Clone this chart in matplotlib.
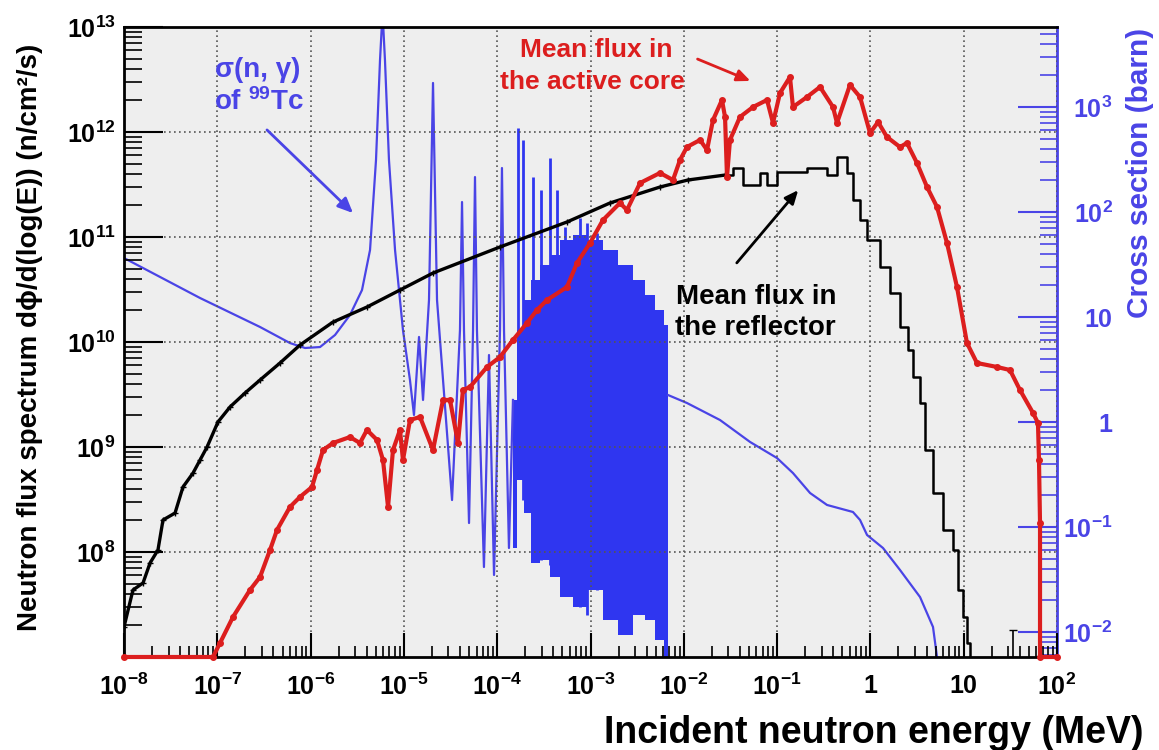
import numpy as np
import matplotlib
matplotlib.use('Agg')
from matplotlib import pyplot as plt
from matplotlib.ticker import LogLocator, FixedLocator, FixedFormatter, NullFormatter

plt.rcParams['font.family'] = ['Liberation Sans', 'DejaVu Sans']
plt.rcParams['font.weight'] = 'bold'
plt.rcParams['mathtext.fontset'] = 'custom'
plt.rcParams['mathtext.rm'] = 'Liberation Sans:bold'
plt.rcParams['mathtext.bf'] = 'Liberation Sans:bold'
plt.rcParams['mathtext.it'] = 'Liberation Sans:bold'
plt.rcParams['mathtext.sf'] = 'Liberation Sans:bold'

#%% values, stored as log10 (energy in MeV, flux in n/cm2/s, sigma in barn)
# mean flux in the reflector (black histogram)
refl_logE = [-8.0, -7.904, -7.796, -7.721, -7.636, -7.582, -7.453, -7.368, -7.260, -7.185,
             -7.110, -6.993, -6.864, -6.703, -6.542, -6.328, -6.114, -5.760, -5.396, -5.042,
             -4.688, -3.970, -3.252, -2.791, -2.255, -1.955, -1.558,
             -1.473, -1.366, -1.183, -1.108, -1.001, -0.680, -0.465, -0.358, -0.251, -0.186,
             -0.111, -0.036, 0.103, 0.210, 0.317, 0.403, 0.457, 0.532, 0.585, 0.671,
             0.778, 0.885, 0.939, 0.993, 1.035, 1.068]
refl_logflux = [7.286, 7.638, 7.705, 7.895, 8.019, 8.305, 8.371, 8.619, 8.752, 8.876,
                9.0, 9.238, 9.381, 9.514, 9.638, 9.800, 9.971, 10.19, 10.333, 10.495,
                10.657, 10.905, 11.143, 11.324, 11.476, 11.543, 11.590,
                11.657, 11.495, 11.610, 11.495, 11.619, 11.657, 11.590, 11.762, 11.610, 11.352,
                11.162, 10.971, 10.714, 10.467, 10.143, 9.924, 9.667, 9.419, 8.971, 8.562,
                8.210, 8.019, 7.638, 7.381, 7.133, 7.0]
refl_stray_E = [34.0]
refl_stray_flux = [1.3e7]

# mean flux in the active core (red)
core_logE = [-8.0, -7.046, -6.971, -6.832, -6.650, -6.542, -6.435, -6.360, -6.221, -6.114,
             -5.985, -5.931, -5.867, -5.760, -5.578, -5.471, -5.396, -5.288, -5.224, -5.170,
             -5.117, -5.042, -5.010, -4.935, -4.827, -4.688, -4.581, -4.506, -4.420, -4.367,
             -4.292, -4.109, -3.970, -3.831, -3.681, -3.573, -3.466, -3.252, -3.145, -3.005,
             -2.866, -2.684, -2.609, -2.469, -2.255, -2.116, -2.041, -1.966, -1.826, -1.751,
             -1.687, -1.591, -1.558, -1.537, -1.505, -1.398, -1.258, -1.108, -1.044, -0.969,
             -0.862, -0.830, -0.680, -0.540, -0.401, -0.358, -0.219, -0.111, -0.004, 0.082,
             0.178, 0.317, 0.392, 0.499, 0.607, 0.714, 0.821, 0.928, 1.035, 1.142,
             1.357, 1.496, 1.603, 1.743, 1.796, 1.807, 1.818, 1.818, 2.0]
core_logflux = [7.0, 7.0, 7.133, 7.381, 7.638, 7.762, 8.019, 8.210, 8.429, 8.524,
                8.619, 8.781, 8.971, 9.038, 9.095, 9.038, 9.162, 9.067, 8.876, 8.429,
                8.971, 9.162, 8.876, 9.257, 9.286, 8.971, 9.448, 9.448, 9.038, 9.543,
                9.571, 9.762, 9.857, 10.019, 10.181, 10.305, 10.4, 10.524, 10.752, 10.943,
                11.162, 11.324, 11.257, 11.514, 11.610, 11.543, 11.733, 11.857, 11.924, 11.829,
                12.114, 12.305, 12.143, 11.571, 11.924, 12.143, 12.238, 12.305, 12.086, 12.371,
                12.524, 12.238, 12.333, 12.429, 12.238, 12.086, 12.448, 12.333, 11.990, 12.095,
                11.952, 11.857, 11.895, 11.705, 11.476, 11.286, 10.943, 10.524, 9.990, 9.800,
                9.762, 9.733, 9.543, 9.324, 9.229, 8.876, 8.276, 7.0, 7.0]

# 99Tc (n,gamma) cross section: thermal part and resolved resonances
xs_logE = [-8.0, -7.185, -6.542, -6.221, -6.060, -5.899, -5.738, -5.578, -5.449, -5.363,
           -5.299, -5.256, -5.229, -5.203, -5.160, -5.095, -5.010, -4.935, -4.892, -4.838,
           -4.795, -4.731, -4.688, -4.645, -4.484, -4.399, -4.377, -4.356, -4.302, -4.259,
           -4.238, -4.217, -4.142, -4.088, -4.034, -3.970, -3.949, -3.927, -3.874, -3.831]
xs_logsig = [1.562, 1.181, 0.905, 0.752, 0.705, 0.714, 0.829, 1.019, 1.257, 1.638,
             2.495, 3.448, 3.9, 3.448, 2.495, 1.638, 0.876, 0.400, 0.067, 0.810,
             0.210, 1.162, 3.229, 1.162, -0.743, 0.876, 2.095, 0.876, -0.962, 0.876,
             2.333, 0.876, -1.381, 0.638, -1.457, 0.876, 2.419, 0.876, -1.200, 0.210]
# dense resonance forest: upper and lower envelope
dense_logE = [-3.831, -3.756, -3.681, -3.595, -3.488, -3.381, -3.273, -3.113, -2.952, -2.791,
              -2.630, -2.469, -2.362, -2.255, -2.169]
dense_hi = [0.210, 0.876, 1.162, 1.352, 1.495, 1.591, 1.733, 1.781, 1.733, 1.638,
            1.495, 1.352, 1.210, 1.067, 0.924]
dense_lo = [-1.200, -0.552, -0.867, -1.343, -1.314, -1.476, -1.667, -1.762, -1.600, -1.886,
            -2.028, -1.838, -1.886, -2.076, -2.238]
spike_logE = [-3.777, -3.724, -3.616, -3.531, -3.434, -3.359, -3.273, -3.113, -3.038, -2.930]
spike_hi = [2.800, 2.686, 2.333, 2.210, 2.514, 2.210, 1.857, 1.943, 1.895, 1.800]
spike_lo = [-0.457, -0.743, -1.314, -1.314, -1.362, -1.457, -1.648, -1.762, -1.838, -1.600]
# unresolved / fast part
tail_logE = [-2.169, -1.966, -1.612, -1.290, -1.001, -0.830, -0.647, -0.465, -0.187, -0.111,
             -0.036, 0.135, 0.317, 0.532, 0.671, 0.714, 0.79]
tail_logsig = [0.257, 0.181, 0.019, -0.190, -0.343, -0.486, -0.676, -0.790, -0.857, -0.933,
               -1.076, -1.200, -1.409, -1.667, -1.952, -2.238, -2.6]

xticks = [1e-8, 1e-7, 1e-6, 1e-5, 1e-4, 1e-3, 1e-2, 1e-1, 1, 10, 100]
xlabels = [r'$10^{-8}$', r'$10^{-7}$', r'$10^{-6}$', r'$10^{-5}$', r'$10^{-4}$', r'$10^{-3}$',
           r'$10^{-2}$', r'$10^{-1}$', '1', '10', r'$10^{2}$']
yticks = [1e8, 1e9, 1e10, 1e11, 1e12, 1e13]
ylabels = [r'$10^{8}$', r'$10^{9}$', r'$10^{10}$', r'$10^{11}$', r'$10^{12}$', r'$10^{13}$']
rticks = [1e-2, 1e-1, 1, 10, 100, 1000]
rlabels = [r'$10^{-2}$', r'$10^{-1}$', '1', '10', r'$10^{2}$', r'$10^{3}$']

#%%
red = '#dc1e1e'
blue = '#4a44e6'
blue_dense = '#2f36f0'

fig = plt.figure(figsize=(11.59, 7.5), dpi=100)
ax = fig.add_axes([124/1159, 93/750, 933/1159, 630/750])
ax2 = ax.twinx()
ax.set_zorder(2)
ax.patch.set_visible(False)
ax2.patch.set_visible(True)
ax2.set_facecolor('#eeeeee')

ax.set_xscale('log')
ax.set_yscale('log')
ax2.set_yscale('log')
ax.set_xlim(1e-8, 1e2)
ax.set_ylim(1e7, 1e13)
ax2.set_ylim(10**-2.238, 10**3.762)

# cross section on the right axis
ax2.plot(10.0**np.array(xs_logE), 10.0**np.array(xs_logsig), color=blue, lw=1.6)
ax2.fill_between(10.0**np.array(dense_logE), 10.0**np.array(dense_lo), 10.0**np.array(dense_hi),
                 color=blue_dense, lw=0, step='mid')
ax2.vlines(10.0**np.array(spike_logE), 10.0**np.array(spike_lo), 10.0**np.array(spike_hi),
           color=blue_dense, lw=2)
ax2.plot(10.0**np.array(tail_logE), 10.0**np.array(tail_logsig), color=blue, lw=1.6)

# reflector flux (black)
rE = 10.0**np.array(refl_logE)
rF = 10.0**np.array(refl_logflux)
smooth = np.array(refl_logE) <= -1.55
last = smooth.sum() - 1
ax.plot(rE[smooth], rF[smooth], color='black', lw=2.4, marker='+', ms=5, mew=1)
ax.plot(rE[last:], rF[last:], color='black', lw=1.8, drawstyle='steps-post')
ax.errorbar(refl_stray_E, refl_stray_flux, yerr=[[0.3e7], [0.5e7]], color='black', lw=1.2,
            capsize=3, fmt='none')

# core flux (red)
ax.plot(10.0**np.array(core_logE), 10.0**np.array(core_logflux), color=red, lw=3,
        marker='o', ms=4, clip_on=False, zorder=5)

# axes cosmetics
ax.xaxis.set_major_locator(FixedLocator(xticks))
ax.xaxis.set_major_formatter(FixedFormatter(xlabels))
ax.xaxis.set_minor_locator(LogLocator(base=10, subs=np.arange(2, 10), numticks=100))
ax.xaxis.set_minor_formatter(NullFormatter())
ax.yaxis.set_major_locator(FixedLocator(yticks))
ax.yaxis.set_major_formatter(FixedFormatter(ylabels))
ax.yaxis.set_minor_locator(LogLocator(base=10, subs=np.arange(2, 10), numticks=100))
ax.yaxis.set_minor_formatter(NullFormatter())
ax2.yaxis.set_major_locator(FixedLocator(rticks))
ax2.yaxis.set_major_formatter(FixedFormatter(rlabels))
ax2.yaxis.set_minor_locator(LogLocator(base=10, subs=np.arange(2, 10), numticks=100))
ax2.yaxis.set_minor_formatter(NullFormatter())

ax.tick_params(axis='x', which='major', direction='in', length=17, width=1.5, labelsize=18,
               pad=12, top=False)
ax.tick_params(axis='x', which='minor', direction='in', length=8, width=1.2, top=False)
ax.tick_params(axis='y', which='major', direction='in', length=28, width=1.5, labelsize=18,
               pad=6, right=False)
ax.tick_params(axis='y', which='minor', direction='in', length=13, width=1.2, right=False)
ax2.tick_params(axis='y', which='major', direction='in', length=28, width=1.5, labelsize=18,
                pad=40, colors=blue)
ax2.tick_params(axis='y', which='minor', direction='in', length=12, width=1.2, colors=blue)
for lab in ax2.get_yticklabels():
    lab.set_horizontalalignment('right')

ax.grid(True, which='major', color='#555555', linestyle=(0, (1, 2)), lw=1.2)

for side in ['left', 'bottom', 'top']:
    ax.spines[side].set_linewidth(2)
ax.spines['right'].set_visible(False)
for side in ['left', 'bottom', 'top']:
    ax2.spines[side].set_visible(False)
ax2.spines['right'].set_color(blue)
ax2.spines['right'].set_linewidth(2)

fig.text(30/1159, 1 - 337/750, 'Neutron flux spectrum d\u03d5/d(log(E)) (n/cm\u00b2/s)',
         rotation=90, ha='center', va='center', fontsize=20, fontweight='bold')
fig.text(1143/1159, 1 - 733/750, 'Incident neutron energy (MeV)', ha='right', va='center',
         fontsize=27, fontweight='bold')
fig.text(1140/1159, 1 - 28/750, 'Cross section (barn)', rotation=90, ha='center', va='top',
         fontsize=21.5, fontweight='bold', color=blue)

# annotations
ax.text(258, 680, '\u03c3(n, \u03b3)', transform=None, ha='center', va='center',
        fontsize=20, fontweight='bold', color=blue)
ax.text(259, 648, r'of $^{99}$Tc', transform=None, ha='center', va='center',
        fontsize=20, fontweight='bold', color=blue)
ax.annotate('', xy=(355, 535), xytext=(265, 622), xycoords='figure pixels',
            arrowprops=dict(arrowstyle='-|>,head_length=0.9,head_width=0.4', lw=2, color=blue))
ax.text(596, 700, 'Mean flux in', transform=None, ha='center', va='center',
        fontsize=19, fontweight='bold', color=red)
ax.text(592, 668, 'the active core', transform=None, ha='center', va='center',
        fontsize=19, fontweight='bold', color=red)
ax.annotate('', xy=(753, 668), xytext=(695, 692), xycoords='figure pixels',
            arrowprops=dict(arrowstyle='-|>,head_length=0.8,head_width=0.35', lw=2, color=red))
ax.text(756, 453, 'Mean flux in', transform=None, ha='center', va='center',
        fontsize=20, fontweight='bold', color='black')
ax.text(755, 422, 'the reflector', transform=None, ha='center', va='center',
        fontsize=20, fontweight='bold', color='black')
ax.annotate('', xy=(800, 562), xytext=(735, 485), xycoords='figure pixels',
            arrowprops=dict(arrowstyle='-|>,head_length=0.8,head_width=0.35', lw=2, color='black'))

fig.savefig('out.png', dpi=100)
